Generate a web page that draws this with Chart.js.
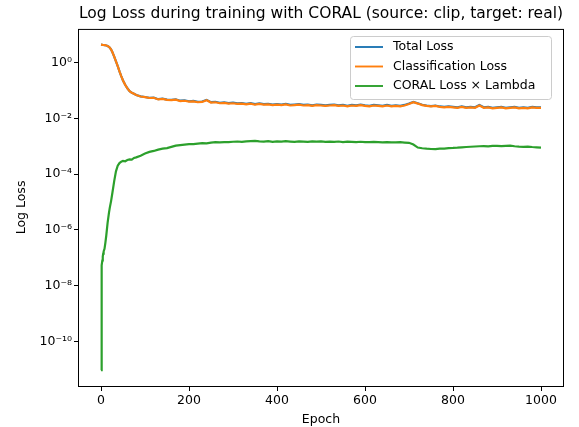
<!DOCTYPE html>
<html>
<head>
<meta charset="utf-8">
<script src="https://cdn.jsdelivr.net/npm/chart.js@4/dist/chart.umd.min.js"></script>
<style>
  html, body { margin: 0; padding: 0; background: #fff; }
  #wrap { width: 579px; height: 427px; }
</style>
</head>
<body>
<div id="wrap"><canvas id="lossChart" width="579" height="427"></canvas></div>
<script>
// epochs sampled from the plot (denser where the curves move fast)
const epochs = [0, 1, 2, 3, 4, 5, 6, 8, 10, 12, 15, 18, 20, 23, 26, 30, 34, 38, 42, 46,
  50, 55, 60, 65, 70, 75, 80, 90, 100, 110, 120, 130, 140, 150, 160, 170, 180, 190, 200,
  210, 220, 230, 240, 250, 260, 270, 280, 290, 300, 310, 320, 330, 340, 350, 360, 370, 380, 390, 400,
  410, 420, 430, 440, 450, 460, 470, 480, 490, 500, 510, 520, 530, 540, 550, 560, 570, 580, 590, 600,
  610, 620, 630, 640, 650, 660, 670, 680, 690, 700, 710, 720, 730, 740, 750, 760, 770, 780, 790, 800,
  810, 820, 830, 840, 850, 860, 870, 880, 890, 900, 910, 920, 930, 940, 950, 960, 970, 980, 990, 1000];

const totalLoss = [4.4, 4.4, 4.4, 4.35, 4.35, 4.3, 4.3, 4.25, 4.2, 4.1, 3.95, 3.7, 3.45, 2.95, 2.35, 1.65, 1.1, 0.75, 0.49, 0.33,
  0.2303, 0.1603, 0.1203, 0.0953, 0.0833, 0.0764, 0.0694, 0.0615, 0.0586, 0.0546, 0.0557, 0.0488, 0.0508, 0.0469, 0.0460, 0.0481, 0.0431, 0.0442, 0.0412,
  0.0422, 0.0393, 0.0403, 0.0463, 0.0384, 0.0394, 0.0364, 0.0374, 0.0354, 0.0365, 0.0345, 0.0354, 0.0335, 0.0355, 0.0326, 0.0345, 0.0325, 0.0335, 0.0315, 0.0325,
  0.0315, 0.0335, 0.0305, 0.0315, 0.0325, 0.0305, 0.0314, 0.0295, 0.0315, 0.0305, 0.0295, 0.0305, 0.0314, 0.0295, 0.0304, 0.0285, 0.0304, 0.0294, 0.0315, 0.0294,
  0.0284, 0.0304, 0.0294, 0.0284, 0.0304, 0.0284, 0.0294, 0.0284, 0.0304, 0.0343, 0.0392, 0.0349, 0.0309, 0.0288, 0.0278, 0.0288, 0.0268, 0.0258, 0.0269, 0.0259,
  0.0249, 0.0269, 0.0249, 0.0260, 0.0250, 0.0300, 0.0250, 0.0260, 0.0240, 0.0250, 0.0260, 0.0240, 0.0251, 0.0260, 0.0240, 0.0250, 0.0240, 0.0259, 0.0249, 0.0249];

const classLoss = [4.4, 4.4, 4.4, 4.35, 4.35, 4.3, 4.3, 4.25, 4.2, 4.1, 3.95, 3.7, 3.45, 2.95, 2.35, 1.65, 1.1, 0.75, 0.49, 0.33,
  0.23, 0.16, 0.12, 0.095, 0.083, 0.076, 0.069, 0.061, 0.058, 0.054, 0.055, 0.048, 0.050, 0.046, 0.045, 0.047, 0.042, 0.043, 0.040,
  0.041, 0.038, 0.039, 0.045, 0.037, 0.038, 0.035, 0.036, 0.034, 0.035, 0.033, 0.034, 0.032, 0.034, 0.031, 0.033, 0.031, 0.032, 0.030, 0.031,
  0.030, 0.032, 0.029, 0.030, 0.031, 0.029, 0.030, 0.028, 0.030, 0.029, 0.028, 0.029, 0.030, 0.028, 0.029, 0.027, 0.029, 0.028, 0.030, 0.028,
  0.027, 0.029, 0.028, 0.027, 0.029, 0.027, 0.028, 0.027, 0.029, 0.033, 0.038, 0.034, 0.030, 0.028, 0.027, 0.028, 0.026, 0.025, 0.026, 0.025,
  0.024, 0.026, 0.024, 0.025, 0.024, 0.029, 0.024, 0.025, 0.023, 0.024, 0.025, 0.023, 0.024, 0.025, 0.023, 0.024, 0.023, 0.025, 0.024, 0.024];

const coralLoss = [9.3e-12, 1.5e-8, 5.4e-8, 8e-8, 1.1e-7, 1.4e-7, 1.7e-7, 2.1e-7, 3.5e-7, 6.3e-7, 1.8e-6, 4e-6, 6.3e-6, 1.1e-5, 2.2e-5, 5.6e-5, 1.26e-4, 2.0e-4, 2.5e-4, 2.8e-4,
  3.0e-4, 2.9e-4, 3.2e-4, 3.4e-4, 3.3e-4, 3.8e-4, 4.0e-4, 4.6e-4, 5.5e-4, 6.3e-4, 6.8e-4, 7.6e-4, 8.2e-4, 8.6e-4, 9.5e-4, 1.05e-3, 1.1e-3, 1.15e-3, 1.2e-3,
  1.2e-3, 1.25e-3, 1.3e-3, 1.28e-3, 1.35e-3, 1.4e-3, 1.38e-3, 1.42e-3, 1.4e-3, 1.45e-3, 1.48e-3, 1.43e-3, 1.5e-3, 1.52e-3, 1.55e-3, 1.5e-3, 1.48e-3, 1.52e-3, 1.45e-3, 1.5e-3,
  1.46e-3, 1.52e-3, 1.48e-3, 1.45e-3, 1.5e-3, 1.47e-3, 1.44e-3, 1.49e-3, 1.46e-3, 1.5e-3, 1.45e-3, 1.47e-3, 1.44e-3, 1.48e-3, 1.42e-3, 1.46e-3, 1.44e-3, 1.4e-3, 1.45e-3, 1.42e-3,
  1.4e-3, 1.44e-3, 1.41e-3, 1.38e-3, 1.42e-3, 1.39e-3, 1.37e-3, 1.4e-3, 1.36e-3, 1.33e-3, 1.15e-3, 9.0e-4, 8.5e-4, 8.2e-4, 8.0e-4, 7.9e-4, 8.2e-4, 8.3e-4, 8.6e-4, 8.7e-4,
  8.9e-4, 9.2e-4, 9.4e-4, 9.6e-4, 9.8e-4, 1.0e-3, 1.02e-3, 1.0e-3, 1.03e-3, 1.04e-3, 1.01e-3, 1.03e-3, 1.05e-3, 1.0e-3, 9.7e-4, 9.5e-4, 9.7e-4, 9.4e-4, 9.2e-4, 9.0e-4];

const seriesNames = ['Total Loss', 'Classification Loss', 'CORAL Loss \u00d7 Lambda'];
const seriesColors = ['#1f77b4', '#ff7f0e', '#2ca02c'];
const xTicks = [0, 200, 400, 600, 800, 1000];
const yTicks = [1e-10, 1e-8, 1e-6, 1e-4, 1e-2, 1];
const yTickLabels = ['10\u207b\u00b9\u2070', '10\u207b\u2078', '10\u207b\u2076', '10\u207b\u2074', '10\u207b\u00b2', '10\u2070'];

const FONT = 'DejaVu Sans';

const toPoints = (vals) => epochs.map((e, i) => ({x: e, y: vals[i]}));

// box round the plot + matplotlib style legend in the upper right
const framePlugin = {
  id: 'frame',
  afterDatasetsDraw(chart) {
    const {ctx, chartArea: a} = chart;
    ctx.save();
    ctx.strokeStyle = '#000';
    ctx.lineWidth = 1;
    ctx.strokeRect(a.left - 0.5, a.top + 0.5, a.right - a.left + 1, a.bottom - a.top);

    // legend
    const x0 = 350, y0 = 36, w = 201, h = 63;
    ctx.fillStyle = 'rgba(255,255,255,0.8)';
    ctx.strokeStyle = '#cccccc';
    ctx.beginPath();
    ctx.roundRect(x0 + 0.5, y0 + 0.5, w, h, 3);
    ctx.fill();
    ctx.stroke();
    ctx.font = '12.5px "' + FONT + '"';
    ctx.textBaseline = 'middle';
    chart.data.datasets.forEach((ds, i) => {
      const yy = y0 + 11 + i * 19.5;
      ctx.strokeStyle = ds.borderColor;
      ctx.lineWidth = 1.9;
      ctx.beginPath();
      ctx.moveTo(x0 + 5, yy);
      ctx.lineTo(x0 + 33, yy);
      ctx.stroke();
      ctx.fillStyle = '#000';
      ctx.fillText(ds.label, x0 + 43, yy);
    });
    ctx.restore();
  }
};

const ctx = document.getElementById('lossChart').getContext('2d');
const lossChart = new Chart(ctx, {
  type: 'line',
  data: {
    datasets: [
      {label: seriesNames[0], data: toPoints(totalLoss), borderColor: seriesColors[0], order: 3},
      {label: seriesNames[1], data: toPoints(classLoss), borderColor: seriesColors[1], order: 2},
      {label: seriesNames[2], data: toPoints(coralLoss), borderColor: seriesColors[2], order: 1}
    ]
  },
  options: {
    responsive: false,
    animation: false,
    devicePixelRatio: 1,
    layout: {padding: {left: 0, right: 16, top: 0, bottom: 0}},
    elements: {
      point: {radius: 0},
      line: {borderWidth: 2.2, tension: 0, fill: false}
    },
    plugins: {
      legend: {display: false},
      tooltip: {enabled: false},
      title: {
        display: true,
        text: 'Log Loss during training with CORAL (source: clip, target: real)',
        fullSize: false,
        color: '#000',
        font: {family: FONT, size: 16.6, weight: 'normal', lineHeight: 1.2},
        padding: {top: 4, bottom: 5}
      }
    },
    scales: {
      x: {
        type: 'linear',
        min: -50,
        max: 1050,
        afterBuildTicks: (s) => { s.ticks = xTicks.map(v => ({value: v})); },
        afterFit: (s) => { s.height = 41; },
        grid: {display: true, drawOnChartArea: false, drawTicks: true, tickLength: 5, color: '#000'},
        border: {display: false},
        ticks: {color: '#000', padding: 2, maxRotation: 0, autoSkip: false,
          font: {family: FONT, size: 12.5},
          callback: (v) => String(v)},
        title: {display: true, text: 'Epoch', color: '#000', padding: {top: 0, bottom: 0},
          font: {family: FONT, size: 12.5, lineHeight: 1.2}}
      },
      y: {
        type: 'logarithmic',
        min: Math.pow(10, -11.6),
        max: Math.pow(10, 1.21),
        afterBuildTicks: (s) => { s.ticks = yTicks.map(v => ({value: v})); },
        afterFit: (s) => { s.width = 79; },
        grid: {display: true, drawOnChartArea: false, drawTicks: true, tickLength: 5, color: '#000'},
        border: {display: false},
        ticks: {
          color: '#000', padding: 2, autoSkip: false,
          font: {family: FONT, size: 12.5},
          callback: (v) => { const i = yTicks.indexOf(v); return i >= 0 ? yTickLabels[i] : ''; }
        },
        title: {display: true, text: 'Log Loss', color: '#000', padding: {top: 14, bottom: 0},
          font: {family: FONT, size: 12.5, lineHeight: 1.2}}
      }
    }
  },
  plugins: [framePlugin]
});
</script>
</body>
</html>
